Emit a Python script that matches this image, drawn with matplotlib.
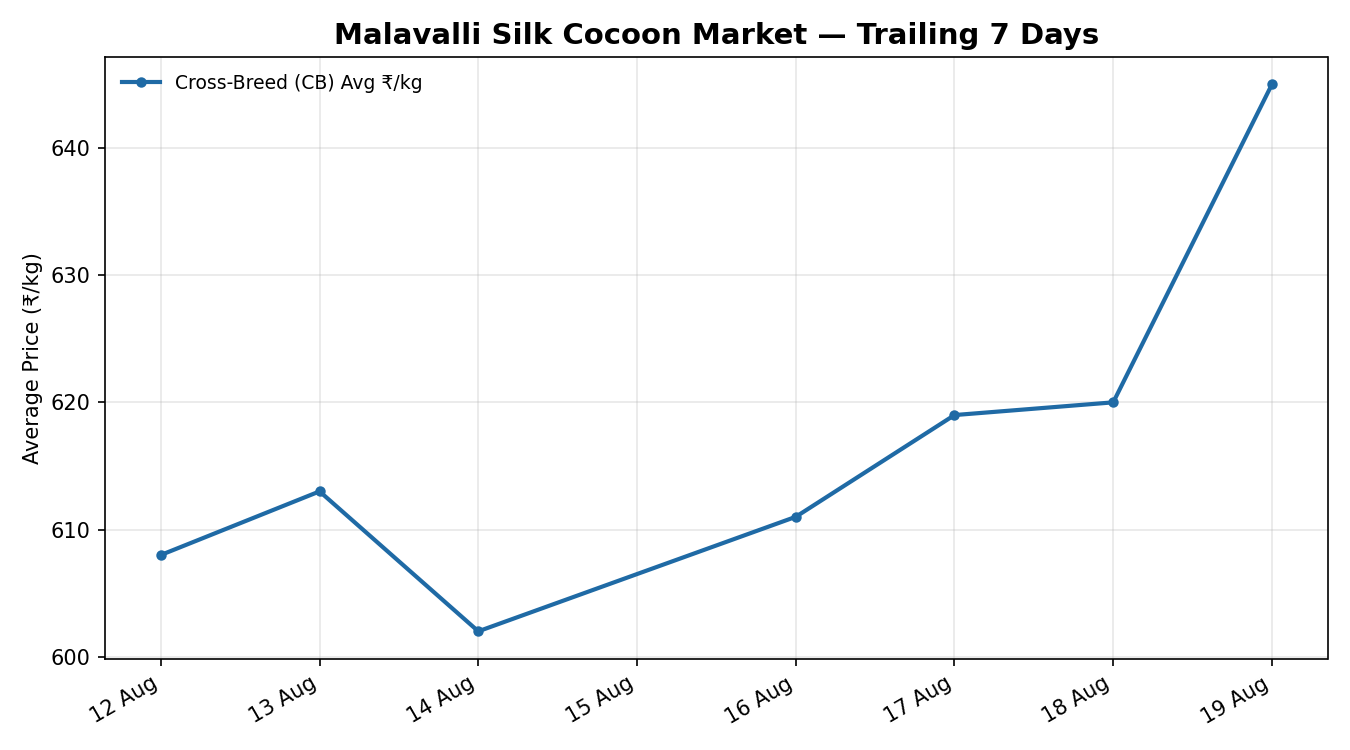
import matplotlib
matplotlib.use("Agg")
import matplotlib.pyplot as plt
import matplotlib.dates as mdates
import pandas as pd

# data
dates = ["2024-08-12", "2024-08-13", "2024-08-14", "2024-08-16",
         "2024-08-17", "2024-08-18", "2024-08-19"]
cb_avg = [608, 613, 602, 611, 619, 620, 645]
tick_dates = pd.date_range("2024-08-12", "2024-08-19", freq="D")

x = pd.to_datetime(dates)

fig, ax = plt.subplots(figsize=(9, 5), dpi=150)
ax.plot(x, cb_avg, color="#1f6aa5", linewidth=2, marker="o", markersize=4,
        label="Cross-Breed (CB) Avg ₹/kg")

ax.set_xticks(tick_dates)
ax.xaxis.set_major_formatter(mdates.DateFormatter("%d %b"))
ax.grid(True, alpha=0.3)
ax.set_ylabel("Average Price (₹/kg)")
ax.set_title("Malavalli Silk Cocoon Market — Trailing 7 Days", fontsize=14, fontweight="bold")
ax.legend(loc="upper left", frameon=False, fontsize=9)
fig.autofmt_xdate()

fig.tight_layout()
fig.savefig("out.png", dpi=150)
